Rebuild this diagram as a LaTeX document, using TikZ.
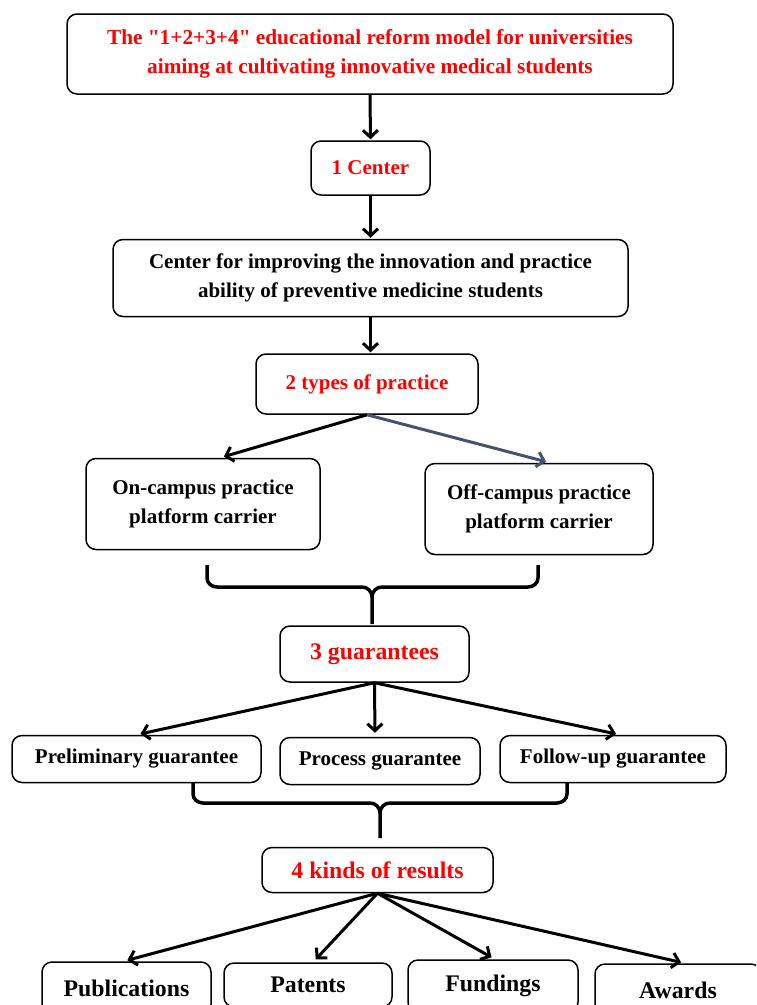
\documentclass[tikz,border=0pt]{standalone}
\usepackage{fontspec}
\setmainfont{Liberation Serif}
\newfontfamily\qfont{Liberation Serif}
\usetikzlibrary{arrows.meta,calc}
\definecolor{redtxt}{RGB}{255,0,0}
\definecolor{slate}{RGB}{68,84,106}
\tikzset{
  box/.style={draw=black, line width=1.5pt, rounded corners=10pt, fill=white, align=center, inner sep=0pt, font=\bfseries\fontsize{21}{28.5}\selectfont},
  redbox/.style={box, text=redtxt},
  bigtxt/.style={font=\bfseries\fontsize{23.8}{28}\selectfont},
  arr/.style={line width=3pt, -{Straight Barb[length=7pt,width=15pt,line width=3pt]}, shorten >=4pt},
  brace/.style={line width=3.5pt}
}
\begin{document}
\begin{tikzpicture}[x=1pt,y=-1pt]
\useasboundingbox (0,0) rectangle (756,1005);
\clip (0,0) rectangle (756,1005);
\node[redbox, minimum width=606pt, minimum height=80pt, font=\qfont\bfseries\fontsize{21.3}{28.5}\selectfont] (title) at (370,54) {The "1+2+3+4" educational reform model for universities\\aiming at cultivating innovative medical students};
\node[redbox, minimum width=119pt, minimum height=54pt] (c1) at (370.5,168) {1 Center};
\node[box, minimum width=515pt, minimum height=77pt] (cen) at (370.5,278) {Center for improving the innovation and practice\\ability of preventive medicine students};
\node[redbox, minimum width=222pt, minimum height=60pt] (t2) at (367,384) {2 types of practice};
\node[box, minimum width=234pt, minimum height=91pt] (on) at (203,504) {On-campus practice\\platform carrier};
\node[box, minimum width=228pt, minimum height=91pt] (off) at (539,509) {Off-campus practice\\platform carrier};
\node[redbox, bigtxt, minimum width=189pt, minimum height=56pt] (g3) at (374.5,654) {3 guarantees};
\node[box, minimum width=249pt, minimum height=47pt] (pre) at (136.5,759) {Preliminary guarantee};
\node[box, minimum width=200pt, minimum height=47pt] (pro) at (380,761) {Process guarantee};
\node[box, minimum width=226pt, minimum height=47pt] (fol) at (613,759) {Follow-up guarantee};
\node[redbox, bigtxt, minimum width=231pt, minimum height=45pt] (r4) at (377.5,870) {4 kinds of results};
\node[box, bigtxt, minimum width=169pt, minimum height=52pt] (pub) at (126.5,988) {Publications};
\node[box, bigtxt, minimum width=168pt, minimum height=44pt] (pat) at (308,985) {Patents};
\node[box, bigtxt, minimum width=170pt, minimum height=52pt] (fun) at (493,986) {Fundings};
\node[box, bigtxt, minimum width=166pt, minimum height=52pt] (awa) at (678,990) {Awards};

\draw[arr, shorten >=1pt] (title.south) -- (c1.north);
\draw[arr, shorten >=1pt] (c1.south) -- (c1.south |- cen.north);
\draw[arr, shorten >=1pt] (cen.south) -- (cen.south |- t2.north);
\draw[arr] (t2.south) -- ([xshift=17pt]on.north);
\draw[arr, draw=slate] (t2.south) -- ([xshift=11pt]off.north);

% brace 1
\coordinate (b1l) at (207,565);
\coordinate (b1r) at (538,565);
\draw[brace] (b1l) -- (207,578) to[out=-90,in=180] (217,587) -- (362,587) to[out=0,in=90] (372,597) -- (372,624);
\draw[brace] (b1r) -- (538,578) to[out=-90,in=0] (528,587) -- (382,587) to[out=180,in=90] (372,597);

\draw[arr] (g3.south) -- (pre.north);
\draw[arr] (g3.south) -- ([xshift=-5pt]pro.north);
\draw[arr] (g3.south) -- ([xshift=7pt]fol.north);

% brace 2
\coordinate (b2l) at (193,782);
\coordinate (b2r) at (567,782);
\draw[brace] (b2l) -- (193,794) to[out=-90,in=180] (203,803) -- (370,803) to[out=0,in=90] (380,813) -- (380,838);
\draw[brace] (b2r) -- (567,794) to[out=-90,in=0] (557,803) -- (390,803) to[out=180,in=90] (380,813);

\draw[arr] (r4.south) -- ([xshift=-3pt]pub.north);
\draw[arr] (r4.south) -- ([xshift=5pt]pat.north);
\draw[arr] (r4.south) -- ([xshift=2pt]fun.north);
\draw[arr] (r4.south) -- ([xshift=7pt]awa.north);
\end{tikzpicture}
\end{document}
